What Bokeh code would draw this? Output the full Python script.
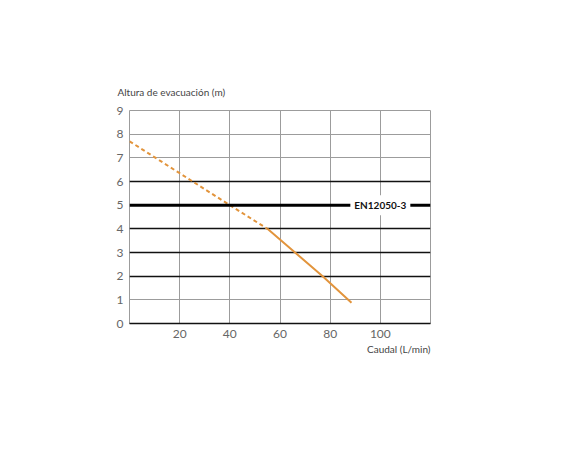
from bokeh.plotting import figure
from bokeh.models import Range1d, FixedTicker, Grid, Label, Span, Title
from bokeh.embed import file_html
from bokeh.resources import INLINE

# Data
flow_dashed = [0, 20, 40, 55]
head_dashed = [7.7, 6.35, 5.0, 4.0]
flow_solid = [55, 66, 77, 88.5]
head_solid = [4.0, 3.0, 2.0, 0.88]
x_ticks = [20, 40, 60, 80, 100]
y_ticks = [0, 1, 2, 3, 4, 5, 6, 7, 8, 9]
gray_h = [1, 7, 8]
black_h = [2, 3, 4, 6]
v_grid = [20, 40, 60, 80, 100]
norm_level = 5
norm_label = "EN12050-3"
y_title = "Altura de evacuación (m)"
x_title = "Caudal (L/min)"

FONT = "Lato"
ORANGE = "#E2943C"
GRAY = "#9c9c9c"

p = figure(frame_width=301, frame_height=213,
           min_border_left=129, min_border_right=108,
           min_border_top=110, min_border_bottom=100,
           x_range=Range1d(0, 120), y_range=Range1d(0, 9),
           output_backend="svg", toolbar_location=None,
           background_fill_color="white", border_fill_color="white")

p.grid.visible = False
p.outline_line_color = GRAY
p.outline_line_width = 1

p.add_layout(Grid(dimension=0, ticker=FixedTicker(ticks=v_grid),
                  grid_line_color=GRAY, grid_line_width=1))
p.add_layout(Grid(dimension=1, ticker=FixedTicker(ticks=gray_h),
                  grid_line_color=GRAY, grid_line_width=1))
p.add_layout(Grid(dimension=1, ticker=FixedTicker(ticks=black_h),
                  grid_line_color="#111111", grid_line_width=1.6))
p.add_layout(Span(location=norm_level, dimension="width",
                  line_color="#000000", line_width=3))

p.line(flow_dashed, head_dashed, line_color=ORANGE, line_width=2,
       line_dash="4 3")
p.line(flow_solid, head_solid, line_color=ORANGE, line_width=2)

p.add_layout(Label(x=100, y=norm_level, text=norm_label,
                   text_align="center", text_baseline="middle",
                   text_font=FONT, text_font_style="bold",
                   text_font_size="10px", text_color="#111111",
                   background_fill_color="white", padding=4))

for ax in (p.xaxis, p.yaxis):
    ax.major_tick_line_color = None
    ax.minor_tick_line_color = None
    ax.major_tick_out = 0
    ax.major_tick_in = 0
    ax.minor_tick_out = 0
    ax.major_label_text_font = FONT
    ax.major_label_text_font_size = "12px"
    ax.major_label_text_color = "#666666"

p.xaxis.ticker = FixedTicker(ticks=x_ticks)
p.xaxis.axis_line_color = "#111111"
p.xaxis.axis_line_width = 1.6
p.xaxis.major_label_standoff = 6
p.yaxis.ticker = FixedTicker(ticks=y_ticks)
p.yaxis.axis_line_color = None
p.yaxis.major_label_standoff = 6

p.title.text = y_title
p.title.align = "left"
p.title.offset = -12
p.title.standoff = 26
p.title.text_font = FONT
p.title.text_font_style = "normal"
p.title.text_font_size = "10px"
p.title.text_color = "#444444"

p.add_layout(Title(text=x_title, align="right", standoff=0,
                   text_font=FONT, text_font_style="normal",
                   text_font_size="10px", text_color="#444444"), "below")

open("out.html", "w").write(file_html(p, INLINE))
